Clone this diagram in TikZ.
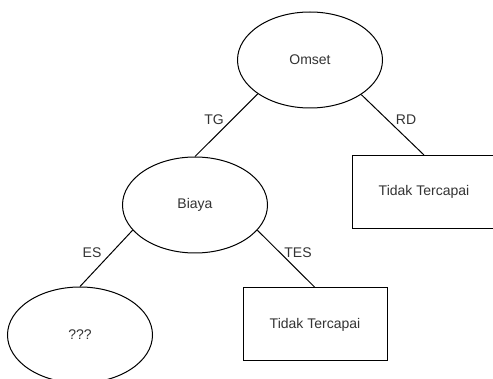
\documentclass[tikz,border=0pt]{standalone}
\usepackage{fontspec}
\setmainfont{Liberation Sans}
\usetikzlibrary{shapes.geometric}
\definecolor{dline}{HTML}{000000}
\definecolor{dtext}{HTML}{333333}
\tikzset{
  elips/.style={ellipse,draw=dline,fill=white,line width=1pt,minimum width=145pt,minimum height=96pt,inner sep=0pt,font=\fontsize{14}{16}\selectfont,text=dtext},
  kotak/.style={rectangle,draw=dline,fill=white,line width=1pt,minimum width=144pt,minimum height=73pt,inner sep=0pt,font=\fontsize{14}{16}\selectfont,text=dtext},
  garis/.style={line width=1pt,draw=dline},
  lbl/.style={font=\fontsize{14}{16}\selectfont,text=dtext,inner sep=0pt},
}
\begin{document}
\begin{tikzpicture}[x=1pt,y=-1pt]
  \useasboundingbox (0,0) rectangle (493,379);
  \clip (0,0) rectangle (493,379);
  \node[elips] (omset) at (310,60) {Omset};
  \node[elips] (biaya) at (195,205) {Biaya};
  \node[elips] (tanya) at (80,335) {???};
  \node[kotak] (tidaka) at (424,192) {Tidak Tercapai};
  \node[kotak] (tidakb) at (315,324.5) {Tidak Tercapai};
  \draw[garis] (omset.213) -- (biaya.north);
  \draw[garis] (omset.326) -- (tidaka.north);
  \draw[garis] (biaya.202) -- (tanya.north);
  \draw[garis] (biaya.338) -- (tidakb.north);
  \node[lbl] (tg) at (214,120) {TG};
  \node[lbl] (rd) at (406,120) {RD};
  \node[lbl] (es) at (92,253) {ES};
  \node[lbl] (tes) at (298,253) {TES};
\end{tikzpicture}
\end{document}
